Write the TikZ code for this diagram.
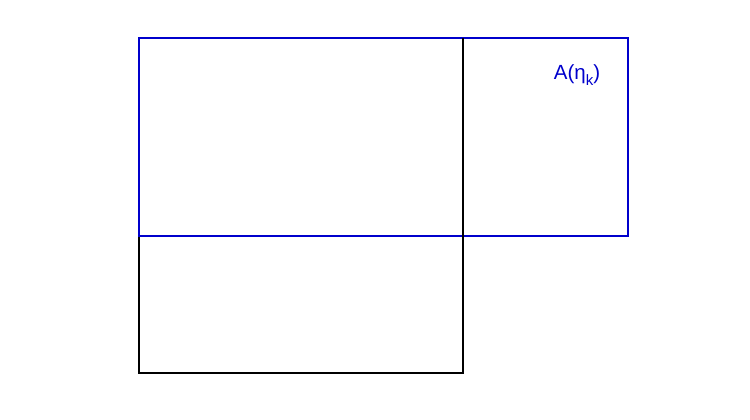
\documentclass[tikz,border=0pt]{standalone}
\usepackage{fontspec}
\setmainfont{Liberation Sans}

\tikzset{
  outline/.style = {draw=black, line width=1.5pt},
  region/.style  = {draw=blue!80!black, line width=1.5pt},
}

\begin{document}
\begin{tikzpicture}[x=1pt, y=-1pt]
  \useasboundingbox (0,0) rectangle (750,420);
  \coordinate (tl) at (139,38);
  \coordinate (br) at (463,373);
  \coordinate (ar) at (628,236);
  \draw[outline] (tl) rectangle (br);
  \draw[region]  (tl) rectangle (ar);
  \draw[outline] (463,38) -- (br);
  \node[text=blue!80!black, font=\fontsize{20.5}{22}\selectfont, inner sep=0pt] (lab) at (577,75)
    {A(η\raisebox{-0.3em}{\fontsize{15}{17}\selectfont k})};
\end{tikzpicture}
\end{document}
